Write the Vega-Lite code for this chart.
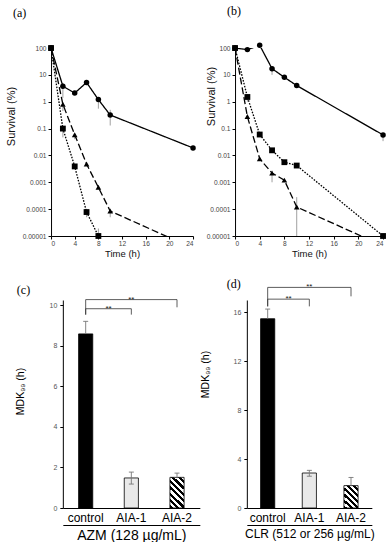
{
  "$schema": "https://vega.github.io/schema/vega-lite/v6.json",
  "background": "white",
  "padding": {"left": 5, "top": 4, "right": 0, "bottom": 0},
  "datasets": {
    "a": [
      {"s": "c", "t": 0, "v": 100},
      {"s": "c", "t": 2, "v": 3.8, "lo": 1.4, "hi": 5},
      {"s": "c", "t": 4, "v": 2.1},
      {"s": "c", "t": 6, "v": 5.2},
      {"s": "c", "t": 8, "v": 1.2, "lo": 0.55, "hi": 1.2},
      {"s": "c", "t": 10, "v": 0.32, "lo": 0.13, "hi": 0.5},
      {"s": "c", "t": 24, "v": 0.019},
      {"s": "t", "t": 0, "v": 100},
      {"s": "t", "t": 2, "v": 0.8, "lo": 0.45, "hi": 0.8},
      {"s": "t", "t": 4, "v": 0.059, "lo": 0.04, "hi": 0.059},
      {"s": "t", "t": 6, "v": 0.0048},
      {"s": "t", "t": 8, "v": 0.00065},
      {"s": "t", "t": 10, "v": 0.000085, "lo": 0.00005, "hi": 0.000085},
      {"s": "t", "t": 24, "v": 0.0000035},
      {"s": "q", "t": 0, "v": 100},
      {"s": "q", "t": 2, "v": 0.1, "lo": 0.047, "hi": 0.1},
      {"s": "q", "t": 4, "v": 0.0039},
      {"s": "q", "t": 6, "v": 0.000078, "lo": 0.00005, "hi": 0.000078},
      {"s": "q", "t": 8, "v": 0.00001, "lo": 0.00001, "hi": 0.000019}
    ],
    "b": [
      {"s": "c", "t": 0, "v": 100},
      {"s": "c", "t": 2, "v": 87},
      {"s": "c", "t": 4, "v": 126},
      {"s": "c", "t": 6, "v": 17, "lo": 10, "hi": 17},
      {"s": "c", "t": 8, "v": 8.1},
      {"s": "c", "t": 10, "v": 4.0},
      {"s": "c", "t": 24, "v": 0.058, "lo": 0.034, "hi": 0.058},
      {"s": "t", "t": 0, "v": 100},
      {"s": "t", "t": 2, "v": 0.28},
      {"s": "t", "t": 4, "v": 0.0075},
      {"s": "t", "t": 6, "v": 0.0022, "lo": 0.001, "hi": 0.0027},
      {"s": "t", "t": 8, "v": 0.0012},
      {"s": "t", "t": 10, "v": 0.00012, "lo": 0.00001, "hi": 0.00028},
      {"s": "t", "t": 24, "v": 0.0000043},
      {"s": "q", "t": 0, "v": 100},
      {"s": "q", "t": 2, "v": 1.5, "lo": 1.0, "hi": 1.5},
      {"s": "q", "t": 4, "v": 0.06},
      {"s": "q", "t": 6, "v": 0.0155},
      {"s": "q", "t": 8, "v": 0.0056},
      {"s": "q", "t": 10, "v": 0.0042},
      {"s": "q", "t": 24, "v": 0.00001}
    ],
    "c": [
      {"g": "control", "m": 8.58, "lo": 8.58, "hi": 9.2},
      {"g": "AIA-1", "m": 1.48, "lo": 1.18, "hi": 1.77},
      {"g": "AIA-2", "m": 1.51, "lo": 1.51, "hi": 1.72}
    ],
    "d": [
      {"g": "control", "m": 15.47, "lo": 15.47, "hi": 16.26},
      {"g": "AIA-1", "m": 2.86, "lo": 2.6, "hi": 3.08},
      {"g": "AIA-2", "m": 1.83, "lo": 1.83, "hi": 2.5}
    ],
    "cb": [
      {"id": 1, "o": 1, "g": "control", "y": 9.53},
      {"id": 1, "o": 2, "g": "control", "y": 10.27},
      {"id": 1, "o": 3, "g": "AIA-2", "y": 10.27},
      {"id": 1, "o": 4, "g": "AIA-2", "y": 9.89},
      {"id": 2, "o": 1, "g": "control", "y": 9.53},
      {"id": 2, "o": 2, "g": "control", "y": 9.82},
      {"id": 2, "o": 3, "g": "AIA-1", "y": 9.82},
      {"id": 2, "o": 4, "g": "AIA-1", "y": 9.53}
    ],
    "cs": [
      {"k": "mid", "g": "AIA-1", "y": 10.27, "lab": "**"},
      {"k": "edge", "g": "control", "y": 9.82, "lab": "**"}
    ],
    "db": [
      {"id": 1, "o": 1, "g": "control", "y": 16.48},
      {"id": 1, "o": 2, "g": "control", "y": 18.03},
      {"id": 1, "o": 3, "g": "AIA-2", "y": 18.03},
      {"id": 1, "o": 4, "g": "AIA-2", "y": 17.3},
      {"id": 2, "o": 1, "g": "control", "y": 16.48},
      {"id": 2, "o": 2, "g": "control", "y": 17.07},
      {"id": 2, "o": 3, "g": "AIA-1", "y": 17.07},
      {"id": 2, "o": 4, "g": "AIA-1", "y": 16.48}
    ],
    "ds": [
      {"k": "mid", "g": "AIA-1", "y": 18.03, "lab": "**"},
      {"k": "edge", "g": "control", "y": 17.07, "lab": "**"}
    ]
  },
  "vconcat": [
    {
      "hconcat": [
        {
          "width": 142,
          "height": 188,
          "title": {"text": "(a)", "dx": -38, "offset": 25},
          "data": {"name": "a"},
          "encoding": {
            "x": {"field": "t", "type": "quantitative", "scale": {"domain": [0, 24], "nice": false},
              "axis": {"title": "Time (h)", "values": [0, 4, 8, 12, 16, 20, 24], "tickCount": 7, "labelOverlap": false, "labelFontSize": 6.6, "titleFontSize": 9.5, "titlePadding": 2, "labelPadding": 1}},
            "y": {"field": "v", "type": "quantitative", "scale": {"type": "log", "domain": [0.00001, 100]},
              "axis": {"title": "Survival (%)", "values": [0.00001, 0.0001, 0.001, 0.01, 0.1, 1, 10, 100], "labelOverlap": false, "labelExpr": "'' + datum.value", "labelFontSize": 6.6, "titleFontSize": 11, "titlePadding": 6, "titleY": 68}}
          },
          "layer": [
            {
              "transform": [{"filter": "isValid(datum.lo)"}],
              "mark": {"type": "rule", "color": "#888", "strokeWidth": 0.8},
              "encoding": {
                "y": {"field": "lo", "type": "quantitative", "scale": {"type": "log", "domain": [0.00001, 100]},
                  "axis": {"title": "Survival (%)", "values": [0.00001, 0.0001, 0.001, 0.01, 0.1, 1, 10, 100], "labelOverlap": false, "labelExpr": "'' + datum.value", "labelFontSize": 6.6, "titleFontSize": 11, "titlePadding": 6, "titleY": 68}},
                "y2": {"field": "hi"}
              }
            },
            {
              "mark": {"type": "line", "color": "#000", "strokeWidth": 1.3, "clip": true},
              "encoding": {
                "strokeDash": {"field": "s", "type": "nominal", "scale": {"domain": ["c", "t", "q"], "range": [[1, 0], [7, 3], [1.6, 1.4]]}, "legend": null}
              }
            },
            {
              "transform": [{"filter": "datum.v >= 0.00001"}],
              "mark": {"type": "point", "filled": true, "color": "#000", "opacity": 1},
              "encoding": {
                "shape": {"field": "s", "type": "nominal", "scale": {"domain": ["c", "t", "q"], "range": ["circle", "triangle-up", "square"]}, "legend": null},
                "size": {"field": "s", "type": "nominal", "scale": {"domain": ["c", "t", "q"], "range": [30, 34, 36]}, "legend": null}
              }
            }
          ]
        },
        {
          "width": 148,
          "height": 188,
          "title": {"text": "(b)", "dx": -8, "offset": 25},
          "data": {"name": "b"},
          "encoding": {
            "x": {"field": "t", "type": "quantitative", "scale": {"domain": [0, 24], "nice": false},
              "axis": {"title": "Time (h)", "values": [0, 4, 8, 12, 16, 20, 24], "tickCount": 7, "labelOverlap": false, "labelFontSize": 6.6, "titleFontSize": 9.5, "titlePadding": 2, "labelPadding": 1}},
            "y": {"field": "v", "type": "quantitative", "scale": {"type": "log", "domain": [0.00001, 100]},
              "axis": {"title": "Survival (%)", "values": [0.00001, 0.0001, 0.001, 0.01, 0.1, 1, 10, 100], "labelOverlap": false, "labelExpr": "'' + datum.value", "labelFontSize": 6.6, "titleFontSize": 11, "titlePadding": -10, "titleY": 48}}
          },
          "layer": [
            {
              "transform": [{"filter": "isValid(datum.lo)"}],
              "mark": {"type": "rule", "color": "#888", "strokeWidth": 0.8},
              "encoding": {
                "y": {"field": "lo", "type": "quantitative", "scale": {"type": "log", "domain": [0.00001, 100]},
                  "axis": {"title": "Survival (%)", "values": [0.00001, 0.0001, 0.001, 0.01, 0.1, 1, 10, 100], "labelOverlap": false, "labelExpr": "'' + datum.value", "labelFontSize": 6.6, "titleFontSize": 11, "titlePadding": -10, "titleY": 48}},
                "y2": {"field": "hi"}
              }
            },
            {
              "mark": {"type": "line", "color": "#000", "strokeWidth": 1.3, "clip": true},
              "encoding": {
                "strokeDash": {"field": "s", "type": "nominal", "scale": {"domain": ["c", "t", "q"], "range": [[1, 0], [7, 3], [1.6, 1.4]]}, "legend": null}
              }
            },
            {
              "transform": [{"filter": "datum.v >= 0.00001"}],
              "mark": {"type": "point", "filled": true, "color": "#000", "opacity": 1},
              "encoding": {
                "shape": {"field": "s", "type": "nominal", "scale": {"domain": ["c", "t", "q"], "range": ["circle", "triangle-up", "square"]}, "legend": null},
                "size": {"field": "s", "type": "nominal", "scale": {"domain": ["c", "t", "q"], "range": [30, 34, 36]}, "legend": null}
              }
            }
          ]
        }
      ],
      "spacing": 42,
      "bounds": "flush"
    },
    {
      "hconcat": [
        {
          "width": 137,
          "height": 208,
          "title": {"text": "(c)", "dx": -46, "offset": -1},
          "resolve": {"axis": {"x": "independent"}},
          "layer": [
            {
              "data": {"name": "c"},
              "mark": {"type": "bar", "stroke": "#000", "strokeWidth": 0.8, "width": {"band": 0.31}},
              "encoding": {
                "x": {"field": "g", "type": "nominal", "scale": {"domain": ["control", "AIA-1", "AIA-2"], "paddingInner": 0, "paddingOuter": 0},
                  "axis": {"title": null, "labelAngle": 0, "labelFontSize": 12, "labelColor": "#000", "ticks": false, "tickSize": 0, "labelPadding": 4}},
                "y": {"field": "m", "type": "quantitative", "scale": {"domain": [0, 10.25], "nice": false},
                  "axis": {"title": "MDK₉₉ (h)", "values": [0, 1, 2, 3, 4, 5, 6, 7, 8, 9, 10], "labelFontSize": 7, "labelColor": "#555", "titleFontSize": 10.5, "titleColor": "#000", "titlePadding": 24, "titleY": 91, "labelPadding": 3}},
                "fill": {
                  "condition": [
                    {"test": "datum.g === 'control'", "value": "#000"},
                    {"test": "datum.g === 'AIA-2'", "value": {"gradient": "linear", "x1": 0, "y1": 1, "x2": 0.543, "y2": -0.206, "stops": [
                      {"offset": 0, "color": "#000"}, {"offset": 0.0714, "color": "#000"}, {"offset": 0.0714, "color": "#fff"}, {"offset": 0.1429, "color": "#fff"},
                      {"offset": 0.1429, "color": "#000"}, {"offset": 0.2143, "color": "#000"}, {"offset": 0.2143, "color": "#fff"}, {"offset": 0.2857, "color": "#fff"},
                      {"offset": 0.2857, "color": "#000"}, {"offset": 0.3571, "color": "#000"}, {"offset": 0.3571, "color": "#fff"}, {"offset": 0.4286, "color": "#fff"},
                      {"offset": 0.4286, "color": "#000"}, {"offset": 0.5, "color": "#000"}, {"offset": 0.5, "color": "#fff"}, {"offset": 0.5714, "color": "#fff"},
                      {"offset": 0.5714, "color": "#000"}, {"offset": 0.6429, "color": "#000"}, {"offset": 0.6429, "color": "#fff"}, {"offset": 0.7143, "color": "#fff"},
                      {"offset": 0.7143, "color": "#000"}, {"offset": 0.7857, "color": "#000"}, {"offset": 0.7857, "color": "#fff"}, {"offset": 0.8571, "color": "#fff"},
                      {"offset": 0.8571, "color": "#000"}, {"offset": 0.9286, "color": "#000"}, {"offset": 0.9286, "color": "#fff"}, {"offset": 1, "color": "#fff"}
                    ]}}
                  ],
                  "value": "#e9e9e9"
                }
              }
            },
            {
              "data": {"name": "c"},
              "mark": {"type": "bar", "opacity": 0},
              "encoding": {
                "x": {"field": "g", "type": "nominal",
                  "axis": {"orient": "bottom", "offset": 17, "labels": false, "ticks": false, "tickSize": 0, "domain": true, "title": "AZM (128 µg/mL)", "titleFontSize": 14, "titleColor": "#000", "titlePadding": 3}},
                "y": {"field": "m", "type": "quantitative"}
              }
            },
            {
              "data": {"name": "c"},
              "transform": [{"filter": "datum.hi > datum.lo"}],
              "mark": {"type": "rule", "color": "#777", "strokeWidth": 0.9},
              "encoding": {
                "x": {"field": "g", "type": "nominal", "axis": null},
                "y": {"field": "lo", "type": "quantitative"},
                "y2": {"field": "hi"}
              }
            },
            {
              "data": {"name": "c"},
              "mark": {"type": "tick", "orient": "horizontal", "size": 5, "thickness": 0.9, "color": "#777", "opacity": 1},
              "encoding": {
                "x": {"field": "g", "type": "nominal", "axis": null},
                "y": {"field": "hi", "type": "quantitative"}
              }
            },
            {
              "data": {"name": "c"},
              "transform": [{"filter": "datum.lo < datum.m"}],
              "mark": {"type": "tick", "orient": "horizontal", "size": 5, "thickness": 0.9, "color": "#777", "opacity": 1},
              "encoding": {
                "x": {"field": "g", "type": "nominal", "axis": null},
                "y": {"field": "lo", "type": "quantitative"}
              }
            },
            {
              "data": {"name": "cb"},
              "mark": {"type": "line", "color": "#333", "strokeWidth": 0.8},
              "encoding": {
                "x": {"field": "g", "type": "nominal", "axis": null},
                "y": {"field": "y", "type": "quantitative"},
                "detail": {"field": "id"},
                "order": {"field": "o"}
              }
            },
            {
              "data": {"name": "cs"},
              "transform": [{"filter": "datum.k === 'mid'"}],
              "mark": {"type": "text", "baseline": "alphabetic", "dy": 2, "fontSize": 8, "color": "#222"},
              "encoding": {
                "x": {"field": "g", "type": "nominal", "axis": null},
                "y": {"field": "y", "type": "quantitative"},
                "text": {"field": "lab"}
              }
            },
            {
              "data": {"name": "cs"},
              "transform": [{"filter": "datum.k === 'edge'"}],
              "mark": {"type": "text", "baseline": "alphabetic", "dy": 2, "fontSize": 8, "color": "#222"},
              "encoding": {
                "x": {"field": "g", "type": "nominal", "bandPosition": 1, "axis": null},
                "y": {"field": "y", "type": "quantitative"},
                "text": {"field": "lab"}
              }
            }
          ]
        },
        {
          "width": 125,
          "height": 208,
          "title": {"text": "(d)", "dx": -20, "offset": -8},
          "resolve": {"axis": {"x": "independent"}},
          "layer": [
            {
              "data": {"name": "d"},
              "mark": {"type": "bar", "stroke": "#000", "strokeWidth": 0.8, "width": {"band": 0.34}},
              "encoding": {
                "x": {"field": "g", "type": "nominal", "scale": {"domain": ["control", "AIA-1", "AIA-2"], "paddingInner": 0, "paddingOuter": 0},
                  "axis": {"title": null, "labelAngle": 0, "labelFontSize": 12, "labelColor": "#000", "ticks": false, "tickSize": 0, "labelPadding": 4}},
                "y": {"field": "m", "type": "quantitative", "scale": {"domain": [0, 17], "nice": false},
                  "axis": {"title": "MDK₉₉ (h)", "values": [0, 2, 4, 6, 8, 10, 12, 14, 16], "labelFontSize": 7, "labelColor": "#555", "titleFontSize": 10.5, "titleColor": "#000", "titlePadding": 23, "titleY": 74, "labelPadding": 3}},
                "fill": {
                  "condition": [
                    {"test": "datum.g === 'control'", "value": "#000"},
                    {"test": "datum.g === 'AIA-2'", "value": {"gradient": "linear", "x1": 0, "y1": 1, "x2": 0.716, "y2": -0.173, "stops": [
                      {"offset": 0, "color": "#000"}, {"offset": 0.0833, "color": "#000"}, {"offset": 0.0833, "color": "#fff"}, {"offset": 0.1667, "color": "#fff"},
                      {"offset": 0.1667, "color": "#000"}, {"offset": 0.25, "color": "#000"}, {"offset": 0.25, "color": "#fff"}, {"offset": 0.3333, "color": "#fff"},
                      {"offset": 0.3333, "color": "#000"}, {"offset": 0.4167, "color": "#000"}, {"offset": 0.4167, "color": "#fff"}, {"offset": 0.5, "color": "#fff"},
                      {"offset": 0.5, "color": "#000"}, {"offset": 0.5833, "color": "#000"}, {"offset": 0.5833, "color": "#fff"}, {"offset": 0.6667, "color": "#fff"},
                      {"offset": 0.6667, "color": "#000"}, {"offset": 0.75, "color": "#000"}, {"offset": 0.75, "color": "#fff"}, {"offset": 0.8333, "color": "#fff"},
                      {"offset": 0.8333, "color": "#000"}, {"offset": 0.9167, "color": "#000"}, {"offset": 0.9167, "color": "#fff"}, {"offset": 1, "color": "#fff"}
                    ]}}
                  ],
                  "value": "#e9e9e9"
                }
              }
            },
            {
              "data": {"name": "d"},
              "mark": {"type": "bar", "opacity": 0},
              "encoding": {
                "x": {"field": "g", "type": "nominal",
                  "axis": {"orient": "bottom", "offset": 17, "labels": false, "ticks": false, "tickSize": 0, "domain": true, "title": "CLR (512 or 256 µg/mL)", "titleFontSize": 12, "titleColor": "#000", "titlePadding": 3}},
                "y": {"field": "m", "type": "quantitative"}
              }
            },
            {
              "data": {"name": "d"},
              "transform": [{"filter": "datum.hi > datum.lo"}],
              "mark": {"type": "rule", "color": "#777", "strokeWidth": 0.9},
              "encoding": {
                "x": {"field": "g", "type": "nominal", "axis": null},
                "y": {"field": "lo", "type": "quantitative"},
                "y2": {"field": "hi"}
              }
            },
            {
              "data": {"name": "d"},
              "mark": {"type": "tick", "orient": "horizontal", "size": 5, "thickness": 0.9, "color": "#777", "opacity": 1},
              "encoding": {
                "x": {"field": "g", "type": "nominal", "axis": null},
                "y": {"field": "hi", "type": "quantitative"}
              }
            },
            {
              "data": {"name": "d"},
              "transform": [{"filter": "datum.lo < datum.m"}],
              "mark": {"type": "tick", "orient": "horizontal", "size": 5, "thickness": 0.9, "color": "#777", "opacity": 1},
              "encoding": {
                "x": {"field": "g", "type": "nominal", "axis": null},
                "y": {"field": "lo", "type": "quantitative"}
              }
            },
            {
              "data": {"name": "db"},
              "mark": {"type": "line", "color": "#333", "strokeWidth": 0.8},
              "encoding": {
                "x": {"field": "g", "type": "nominal", "axis": null},
                "y": {"field": "y", "type": "quantitative"},
                "detail": {"field": "id"},
                "order": {"field": "o"}
              }
            },
            {
              "data": {"name": "ds"},
              "transform": [{"filter": "datum.k === 'mid'"}],
              "mark": {"type": "text", "baseline": "alphabetic", "dy": 2, "fontSize": 8, "color": "#222"},
              "encoding": {
                "x": {"field": "g", "type": "nominal", "axis": null},
                "y": {"field": "y", "type": "quantitative"},
                "text": {"field": "lab"}
              }
            },
            {
              "data": {"name": "ds"},
              "transform": [{"filter": "datum.k === 'edge'"}],
              "mark": {"type": "text", "baseline": "alphabetic", "dy": 2, "fontSize": 8, "color": "#222"},
              "encoding": {
                "x": {"field": "g", "type": "nominal", "bandPosition": 1, "axis": null},
                "y": {"field": "y", "type": "quantitative"},
                "text": {"field": "lab"}
              }
            }
          ]
        }
      ],
      "spacing": 47,
      "bounds": "flush"
    }
  ],
  "spacing": 19,
  "bounds": "full",
  "center": true,
  "config": {
    "view": {"stroke": null},
    "font": "Liberation Sans",
    "axis": {"grid": false, "labelOverlap": false, "domainColor": "#000", "domainWidth": 1, "tickColor": "#000", "tickSize": 3, "labelColor": "#444", "labelFont": "Liberation Sans", "titleFont": "Liberation Sans", "titleFontWeight": "normal", "titleColor": "#111"},
    "title": {"font": "Liberation Serif", "fontWeight": "normal", "fontSize": 12, "color": "#000", "anchor": "start", "frame": "group"}
  }
}
